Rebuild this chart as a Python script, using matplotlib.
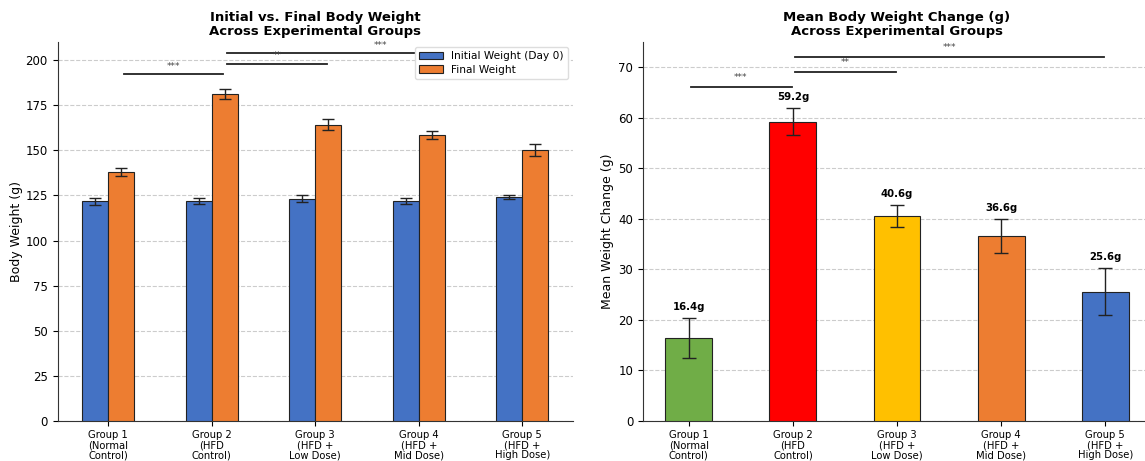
import numpy as np
import matplotlib.pyplot as plt

groups = ["Group 1\n(Normal\nControl)", "Group 2\n(HFD\nControl)", "Group 3\n(HFD +\nLow Dose)",
          "Group 4\n(HFD +\nMid Dose)", "Group 5\n(HFD +\nHigh Dose)"]

initial_wt = [121.7, 121.7, 123.2, 122.0, 124.3]
initial_err = [2.0, 1.6, 1.8, 1.7, 1.1]
final_wt = [138.1, 181.1, 164.1, 158.5, 150.2]
final_err = [2.2, 2.6, 3.0, 2.1, 3.1]

wt_change = [16.4, 59.2, 40.6, 36.6, 25.6]
change_err = [4.0, 2.7, 2.2, 3.4, 4.6]
change_colors = ["#70AD47", "#FF0000", "#FFC000", "#ED7D31", "#4472C4"]

# significance brackets: (group a, group b, height, label)
sig_left = [(0, 1, 192, "***"), (1, 2, 198, "**"), (1, 4, 204, "***")]
sig_right = [(0, 1, 66, "***"), (1, 2, 69, "**"), (1, 4, 72, "***")]

fig = plt.figure(figsize=(11.45, 4.61), dpi=100)
ax1 = fig.add_axes([57.5/1145, 1-421/461, (573-57.5)/1145, (421-42)/461])
ax2 = fig.add_axes([643/1145, 1-421/461, (1151-643)/1145, (421-42)/461])

x = np.arange(len(groups))
w = 0.25
ekw = dict(ecolor="#222222", elinewidth=1, capthick=1)

ax1.bar(x - w/2, initial_wt, w, yerr=initial_err, capsize=4, color="#4472C4",
        edgecolor="#222222", linewidth=0.8, label="Initial Weight (Day 0)", error_kw=ekw, zorder=3)
ax1.bar(x + w/2, final_wt, w, yerr=final_err, capsize=4, color="#ED7D31",
        edgecolor="#222222", linewidth=0.8, label="Final Weight", error_kw=ekw, zorder=3)
ax1.set_xlim(-0.49, 4.49)
ax1.set_ylim(0, 210)
ax1.set_xticks(x)
ax1.set_xticklabels(groups, fontsize=7.2, linespacing=1.0)
ax1.tick_params(axis="x", pad=3)
ax1.tick_params(axis="y", labelsize=8.5)
ax1.set_ylabel("Body Weight (g)", fontsize=9, labelpad=2)
ax1.set_title("Initial vs. Final Body Weight\nAcross Experimental Groups", fontsize=9.5,
              fontweight="bold", linespacing=1.15, pad=5)
ax1.yaxis.grid(True, linestyle="--", color="#cccccc", lw=0.8, zorder=0)
ax1.legend(fontsize=7.6, loc="upper right", borderaxespad=0.5, handlelength=2.2,
           labelspacing=0.3, framealpha=1, edgecolor="#dddddd", fancybox=True)

for a, b, h, s in sig_left:
    ax1.plot([x[a] + 0.15, x[b] + 0.11], [h, h], color="#222222", lw=1.3, zorder=2)
    ax1.text((x[a] + x[b]) / 2 + 0.13, h + 1.8, s, ha="center", va="bottom",
             fontsize=6.5, color="#444444")

ax2.bar(x, wt_change, 0.45, yerr=change_err, capsize=5, color=change_colors,
        edgecolor="#222222", linewidth=0.8, error_kw=ekw, zorder=3)
for xi, v, e in zip(x, wt_change, change_err):
    ax2.text(xi, v + e + 1.2, f"{v:.1f}g", ha="center", va="bottom", fontsize=7.3,
             fontweight="bold")
ax2.set_xlim(-0.44, 4.44)
ax2.set_ylim(0, 75)
ax2.set_xticks(x)
ax2.set_xticklabels(groups, fontsize=7.2, linespacing=1.0)
ax2.tick_params(axis="x", pad=3)
ax2.tick_params(axis="y", labelsize=8.5)
ax2.set_ylabel("Mean Weight Change (g)", fontsize=9, labelpad=3)
ax2.set_title("Mean Body Weight Change (g)\nAcross Experimental Groups", fontsize=9.5,
              fontweight="bold", linespacing=1.15, pad=5)
ax2.yaxis.grid(True, linestyle="--", color="#cccccc", lw=0.8, zorder=0)

for a, b, h, s in sig_right:
    ax2.plot([x[a] + 0.02, x[b] - 0.01], [h, h], color="#222222", lw=1.3, zorder=2)
    ax2.text((x[a] + x[b]) / 2, h + 1.1, s, ha="center", va="bottom",
             fontsize=6.5, color="#444444")

for ax in (ax1, ax2):
    ax.spines["top"].set_visible(False)
    ax.spines["right"].set_visible(False)
    ax.spines["left"].set_color("#333333")
    ax.spines["bottom"].set_color("#333333")

fig.savefig("out.png", dpi=100)
